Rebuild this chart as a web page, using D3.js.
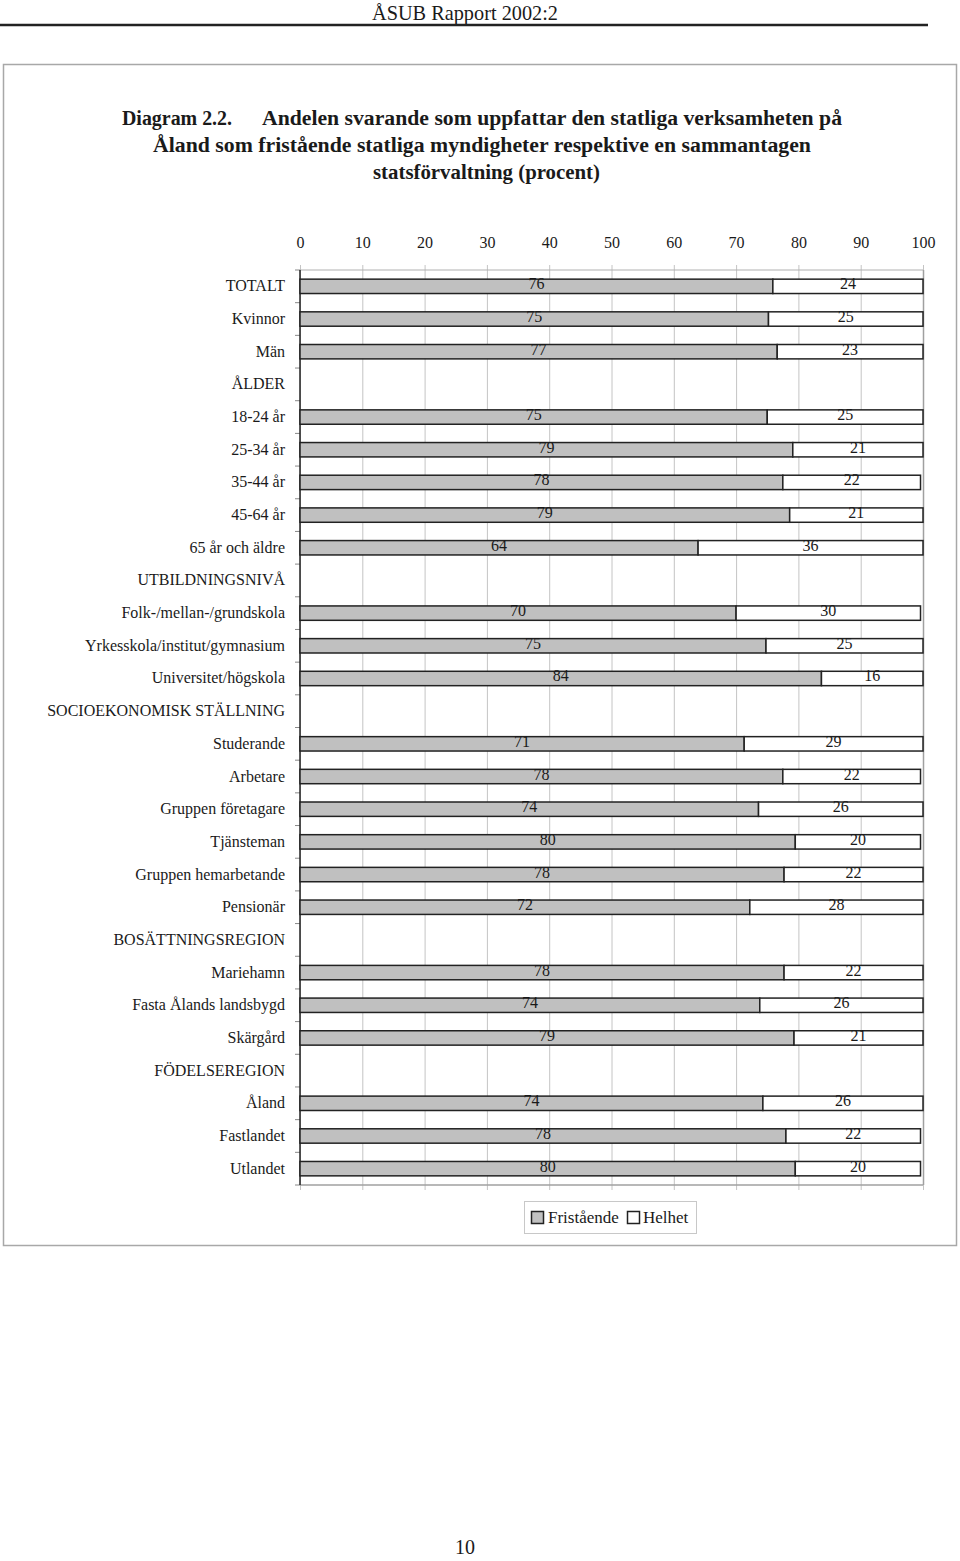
<!DOCTYPE html>
<html><head><meta charset="utf-8">
<script src="https://cdn.jsdelivr.net/npm/d3@7"></script>
<style>
body{margin:0;background:#fff}
svg{display:block}
text{font-family:"Liberation Serif","Times New Roman",serif;fill:#1a1a1a}
</style>
</head><body>
<svg id="c" width="960" height="1561"></svg>
<script>
// ---- data ----
const categories = [
  "TOTALT","Kvinnor","Män",
  "ÅLDER","18-24 år","25-34 år","35-44 år","45-64 år","65 år och äldre",
  "UTBILDNINGSNIVÅ","Folk-/mellan-/grundskola","Yrkesskola/institut/gymnasium","Universitet/högskola",
  "SOCIOEKONOMISK STÄLLNING","Studerande","Arbetare","Gruppen företagare","Tjänsteman","Gruppen hemarbetande","Pensionär",
  "BOSÄTTNINGSREGION","Mariehamn","Fasta Ålands landsbygd","Skärgård",
  "FÖDELSEREGION","Åland","Fastlandet","Utlandet"
];
const fristaende = [
  75.9,75.2,76.6,
  null,75.0,79.1,77.5,78.6,63.9,
  null,70.0,74.8,83.7,
  null,71.3,77.5,73.6,79.5,77.7,72.2,
  null,77.7,73.8,79.3,
  null,74.3,78.0,79.5
];
const helhet = [
  24.1,24.8,23.4,
  null,25.0,20.9,22.1,21.4,36.1,
  null,29.6,25.2,16.3,
  null,28.7,22.1,26.4,20.1,22.3,27.8,
  null,22.3,26.2,20.7,
  null,25.7,21.6,20.1
];
const xTicks = [0,10,20,30,40,50,60,70,80,90,100];
const seriesNames = ["Fristående","Helhet"];
const seriesColors = ["#c0c0c0","#ffffff"];
const headerText = "ÅSUB Rapport 2002:2";
const titleLabel = "Diagram 2.2.";
const titleLines = [
  "Andelen svarande som uppfattar den statliga verksamheten på",
  "Åland som fristående statliga myndigheter respektive en sammantagen",
  "statsförvaltning (procent)"
];
const pageNumber = "10";

// ---- drawing ----
const svg = d3.select("#c");

// page header
svg.append("text").attr("x",372).attr("y",20).attr("font-size",22)
  .attr("textLength",186).attr("lengthAdjust","spacingAndGlyphs").text(headerText);
svg.append("line").attr("x1",0).attr("x2",928).attr("y1",25).attr("y2",25)
  .attr("stroke","#222").attr("stroke-width",2.5);

// outer frame
svg.append("rect").attr("x",3.5).attr("y",64.5).attr("width",953).attr("height",1181)
  .attr("fill","none").attr("stroke","#a8a8a8").attr("stroke-width",1.5);

// title
const tg = svg.append("g").attr("font-weight","bold").attr("font-size",20);
tg.append("text").attr("x",122).attr("y",125).attr("textLength",110).attr("lengthAdjust","spacingAndGlyphs").text(titleLabel);
tg.append("text").attr("x",262).attr("y",125).attr("textLength",580).attr("lengthAdjust","spacingAndGlyphs").text(titleLines[0]);
tg.append("text").attr("x",153).attr("y",152).attr("textLength",658).attr("lengthAdjust","spacingAndGlyphs").text(titleLines[1]);
tg.append("text").attr("x",373).attr("y",179).attr("textLength",227).attr("lengthAdjust","spacingAndGlyphs").text(titleLines[2]);

// scales
const x = d3.scaleLinear().domain([0,100]).range([300,923]);
const y = d3.scaleBand().domain(categories).range([270,1185]).paddingInner(0.56).paddingOuter(0.28);
const step = y.step();

// gridlines
svg.append("g").selectAll("line").data(xTicks).join("line")
  .attr("x1",d=>x(d)+0.5).attr("x2",d=>x(d)+0.5).attr("y1",265).attr("y2",1190)
  .attr("stroke","#c4c4c4").attr("stroke-width",1);

// frame of plot (top, right, bottom)
svg.append("line").attr("x1",300).attr("x2",923).attr("y1",270).attr("y2",270).attr("stroke","#b0b0b0");
svg.append("line").attr("x1",923.5).attr("x2",923.5).attr("y1",270).attr("y2",1185).attr("stroke","#a0a0a0").attr("stroke-width",1.5);
svg.append("line").attr("x1",300).attr("x2",923).attr("y1",1185).attr("y2",1185).attr("stroke","#a0a0a0").attr("stroke-width",1.5);

// top axis labels
const xAxis = d3.axisTop(x).tickValues(xTicks).tickSize(0).tickPadding(22).tickFormat(d3.format("d"));
const xg = svg.append("g").attr("transform","translate(0,270)").call(xAxis);
xg.select(".domain").remove();
xg.selectAll("text").attr("font-size",16).attr("font-family","Liberation Serif, serif").attr("fill","#1a1a1a");

// left axis line and boundary ticks
const bounds = categories.map(c => y(c) - step*0.28).concat([1185]);
svg.append("g").selectAll("line").data(bounds).join("line")
  .attr("x1",295).attr("x2",300).attr("y1",d=>d).attr("y2",d=>d).attr("stroke","#888");
svg.append("line").attr("x1",300).attr("x2",300).attr("y1",270).attr("y2",1185).attr("stroke","#222").attr("stroke-width",1.5);

// category labels
svg.append("g").selectAll("text").data(categories).join("text")
  .attr("x",285).attr("y",d=>y(d)+y.bandwidth()/2+5).attr("text-anchor","end").attr("font-size",16)
  .text(d=>d);

// bars
const rows = categories.map((c,i)=>({c, f:fristaende[i], h:helhet[i]})).filter(r=>r.f!=null);
const bg = svg.append("g");
bg.selectAll("rect.f").data(rows).join("rect").attr("class","f")
  .attr("x",x(0)).attr("y",d=>y(d.c)).attr("width",d=>x(d.f)-x(0)).attr("height",y.bandwidth())
  .attr("fill",seriesColors[0]).attr("stroke","#222").attr("stroke-width",1.5);
bg.selectAll("rect.h").data(rows).join("rect").attr("class","h")
  .attr("x",d=>x(d.f)).attr("y",d=>y(d.c)).attr("width",d=>x(d.f+d.h)-x(d.f)).attr("height",y.bandwidth())
  .attr("fill",seriesColors[1]).attr("stroke","#222").attr("stroke-width",1.5);

// value labels
const lg = svg.append("g").attr("font-size",16).attr("text-anchor","middle");
lg.selectAll("text.f").data(rows).join("text").attr("class","f")
  .attr("x",d=>(x(0)+x(d.f))/2).attr("y",d=>y(d.c)+y.bandwidth()/2+3).text(d=>Math.round(d.f));
lg.selectAll("text.h").data(rows).join("text").attr("class","h")
  .attr("x",d=>(x(d.f)+x(d.f+d.h))/2).attr("y",d=>y(d.c)+y.bandwidth()/2+3).text(d=>Math.round(d.h));

// legend
const leg = svg.append("g");
leg.append("rect").attr("x",524.5).attr("y",1201.5).attr("width",172).attr("height",32)
  .attr("fill","#fff").attr("stroke","#c8c8c8");
const legX = [531,627], legTX = [548,643];
seriesNames.forEach((n,i)=>{
  leg.append("rect").attr("x",legX[i]+0.5).attr("y",1211.5).attr("width",12).attr("height",12)
    .attr("fill",seriesColors[i]).attr("stroke","#222").attr("stroke-width",1.5);
  leg.append("text").attr("x",legTX[i]).attr("y",1223).attr("font-size",17).text(n);
});

// page number
svg.append("text").attr("x",465).attr("y",1554).attr("text-anchor","middle").attr("font-size",20).text(pageNumber);
</script>
</body></html>
